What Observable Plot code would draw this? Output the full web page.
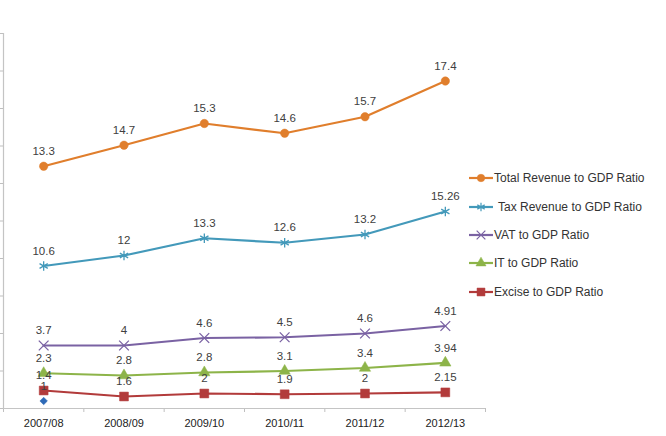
<!DOCTYPE html>
<html><head><meta charset="utf-8">
<script src="https://cdn.jsdelivr.net/npm/d3@7"></script>
<script src="https://cdn.jsdelivr.net/npm/@observablehq/plot@0.6"></script>
<style>
body{margin:0;background:#fff;font-family:"Liberation Sans",Arial,sans-serif}
#wrap{position:relative;width:666px;height:436px;overflow:hidden}
#legend{position:absolute;left:468px;top:164px}
.item{display:flex;align-items:center;height:28.4px;font-size:12px;color:#333;white-space:nowrap}
.item svg{flex:none}
</style>
</head><body><div id="wrap"><div id="chart"></div><div id="legend"></div></div>
<script>
const years = ["2007/08","2008/09","2009/10","2010/11","2011/12","2012/13"];
const otherRatio   = [1, null, null, null, null, null];
const exciseRatio  = [1.4, 1.6, 2, 1.9, 2, 2.15];
const itRatio      = [2.3, 2.8, 2.8, 3.1, 3.4, 3.94];
const vatRatio     = [3.7, 4, 4.6, 4.5, 4.6, 4.91];
const taxRatio     = [10.6, 12, 13.3, 12.6, 13.2, 15.26];
const totalRatio   = [13.3, 14.7, 15.3, 14.6, 15.7, 17.4];
const yTicks = [0,5,10,15,20,25,30,35,40,45,50];

// stacking order: bottom to top
const series = [
  {name:"Other", values: otherRatio, color:"#2E6AB7", symbol:"diamond2", r:3.4, filled:true, legend:false},
  {name:"Excise to GDP Ratio", values: exciseRatio, color:"#B23B3B", symbol:"square", r:5, filled:true, legend:true},
  {name:"IT to GDP Ratio", values: itRatio, color:"#8DB449", symbol:"triangle", r:4.2, filled:true, legend:true},
  {name:"VAT to GDP Ratio", values: vatRatio, color:"#7A62A3", symbol:"times", r:4.5, filled:false, legend:true},
  {name:"Tax Revenue to GDP Ratio", values: taxRatio, color:"#4399BA", symbol:"asterisk", r:4.5, filled:false, legend:true},
  {name:"Total Revenue to GDP Ratio", values: totalRatio, color:"#E07E2C", symbol:"circle", r:4.2, filled:true, legend:true}
];

const rows = [];
const cum = years.map(() => 0);
for (const s of series) {
  s.values.forEach((v, i) => {
    if (v == null) return;
    cum[i] += v;
    rows.push({series: s.name, i, value: v, top: cum[i]});
  });
}

const marks = [
  Plot.axisY({ticks: yTicks, tickSize: 3, tickFormat: () => "", stroke: "#BFBFBF", label: null}),
  Plot.axisX({ticks: d3.range(-0.5, years.length, 1), tickSize: 4, tickFormat: () => "", stroke: "#BFBFBF", label: null}),
  Plot.axisX({ticks: d3.range(years.length), tickSize: 0, tickPadding: 11, tickFormat: i => years[i], fontSize: 11, fill: "#222", label: null}),
  Plot.ruleX([-0.5], {y1: 0, y2: 50, stroke: "#C4C4C4", strokeWidth: 1.2}),
  Plot.ruleY([0], {stroke: "#C4C4C4", strokeWidth: 1.2})
];
for (const s of series) {
  const d = rows.filter(r => r.series === s.name);
  if (d.length > 1) marks.push(Plot.line(d, {x: "i", y: "top", stroke: s.color, strokeWidth: 2.2}));
  marks.push(Plot.dot(d, {x: "i", y: "top", symbol: () => s.symbol, r: s.r,
    fill: s.filled ? s.color : "none", stroke: s.color, strokeWidth: s.filled ? 0.5 : 1.3}));
}
marks.push(Plot.text(rows, {x: "i", y: "top", text: d => String(d.value), dy: -15, fontSize: 11.5, fill: "#404040"}));

const chart = Plot.plot({
  width: 666, height: 436,
  marginLeft: 3, marginRight: 181, marginTop: 33, marginBottom: 28,
  style: {fontFamily: '"Liberation Sans", Arial, sans-serif', background: "#fff"},
  x: {type: "linear", domain: [-0.5, years.length - 0.5], axis: null},
  y: {domain: [0, 50], axis: null},
  symbol: {type: "identity"},
  marks
});
document.getElementById("chart").appendChild(chart);

// legend, top item = top of stack
const legend = document.getElementById("legend");
for (const s of series.slice().reverse()) {
  if (!s.legend) continue;
  const row = document.createElement("div");
  row.className = "item";
  const svg = d3.create("svg").attr("width", 26).attr("height", 14);
  svg.append("line").attr("x1", 1).attr("x2", 25).attr("y1", 7).attr("y2", 7).attr("stroke", s.color).attr("stroke-width", 2.2);
  const sym = {circle: d3.symbolCircle, square: d3.symbolSquare, triangle: d3.symbolTriangle, times: d3.symbolTimes, asterisk: d3.symbolAsterisk}[s.symbol];
  svg.append("path").attr("transform", "translate(13,7)").attr("d", d3.symbol(sym, Math.PI * s.r * s.r * 0.8)())
    .attr("fill", s.filled ? s.color : "none").attr("stroke", s.color).attr("stroke-width", s.filled ? 0.5 : 1.2);
  row.appendChild(svg.node());
  const t = document.createElement("span");
  t.textContent = s.name;
  t.style.marginLeft = s.symbol === "asterisk" ? "4px" : "0px";
  row.appendChild(t);
  legend.appendChild(row);
}
</script>
</body></html>
